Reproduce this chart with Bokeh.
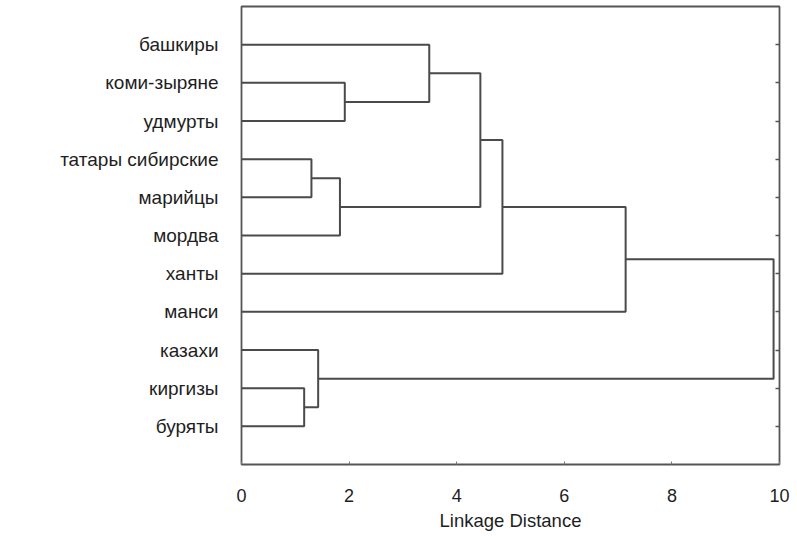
from bokeh.plotting import figure
from bokeh.models import Range1d, FixedTicker, LinearAxis
from bokeh.embed import file_html
from bokeh.resources import INLINE

# leaves in display order (top to bottom)
leaves = ["башкиры", "коми-зыряне", "удмурты", "татары сибирские", "марийцы",
          "мордва", "ханты", "манси", "казахи", "киргизы", "буряты"]
# cluster merges: (child a, child b, linkage distance); nodes 0..10 are leaves, 11.. are clusters
merge_a = [1, 3, 9, 8, 12, 0, 16, 17, 18, 19]
merge_b = [2, 4, 10, 13, 5, 11, 15, 6, 7, 14]
merge_h = [1.92, 1.30, 1.165, 1.425, 1.83, 3.49, 4.44, 4.85, 7.14, 9.89]
x_ticks = [0, 2, 4, 6, 8, 10]

# node positions
node_x = [0.0] * len(leaves)
node_y = [float(i + 1) for i in range(len(leaves))]
xs, ys = [], []
for a, b, h in zip(merge_a, merge_b, merge_h):
    xs.append([node_x[a], h, h, node_x[b]])
    ys.append([node_y[a], node_y[a], node_y[b], node_y[b]])
    node_x.append(h)
    node_y.append((node_y[a] + node_y[b]) / 2)

FONT = "Liberation Sans"
LINE = "#4a4a4a"
TEXT = "#1e1e1e"

p = figure(frame_width=538, frame_height=458, output_backend="svg", toolbar_location=None,
           x_range=Range1d(0, 10), y_range=Range1d(len(leaves) + 1, 0),
           min_border_left=241, min_border_right=11, min_border_top=6, min_border_bottom=60)
p.background_fill_color = "white"
p.border_fill_color = "white"
p.outline_line_color = "#555555"
p.outline_line_width = 1.8
p.xgrid.visible = False
p.ygrid.visible = False

p.multi_line(xs, ys, line_color=LINE, line_width=2)

row_ticks = list(range(1, len(leaves) + 1))

# y axis labels
ya = p.yaxis[0]
ya.ticker = FixedTicker(ticks=row_ticks)
ya.major_label_overrides = {i + 1: name for i, name in enumerate(leaves)}
ya.major_tick_in = 0
ya.major_tick_out = 0
ya.minor_tick_in = 0
ya.minor_tick_out = 0
ya.axis_line_color = None
ya.major_label_standoff = 23
ya.major_label_text_font = FONT
ya.major_label_text_font_size = "19px"
ya.major_label_text_color = TEXT

# right axis: inward ticks only
ra = LinearAxis(ticker=FixedTicker(ticks=row_ticks))
ra.major_label_overrides = {t: " " for t in row_ticks}
ra.major_label_text_font_size = "8px"
ra.major_tick_in = 4
ra.major_tick_out = 0
ra.minor_tick_in = 0
ra.minor_tick_out = 0
ra.axis_line_color = None
ra.major_tick_line_color = "#555555"
ra.major_tick_line_width = 1.5
p.add_layout(ra, "right")

xa = p.xaxis[0]
xa.ticker = FixedTicker(ticks=x_ticks)
xa.major_tick_in = 3
xa.major_tick_out = 0
xa.minor_tick_in = 0
xa.minor_tick_out = 0
xa.axis_line_color = None
xa.major_tick_line_color = "#777777"
xa.major_label_standoff = 24
xa.major_label_text_font = FONT
xa.major_label_text_font_size = "18px"
xa.major_label_text_color = TEXT
xa.axis_label = "Linkage Distance"
xa.axis_label_text_font = FONT
xa.axis_label_text_font_size = "18.5px"
xa.axis_label_text_font_style = "normal"
xa.axis_label_text_color = TEXT
xa.axis_label_standoff = 5

open("out.html", "w").write(file_html(p, INLINE))
